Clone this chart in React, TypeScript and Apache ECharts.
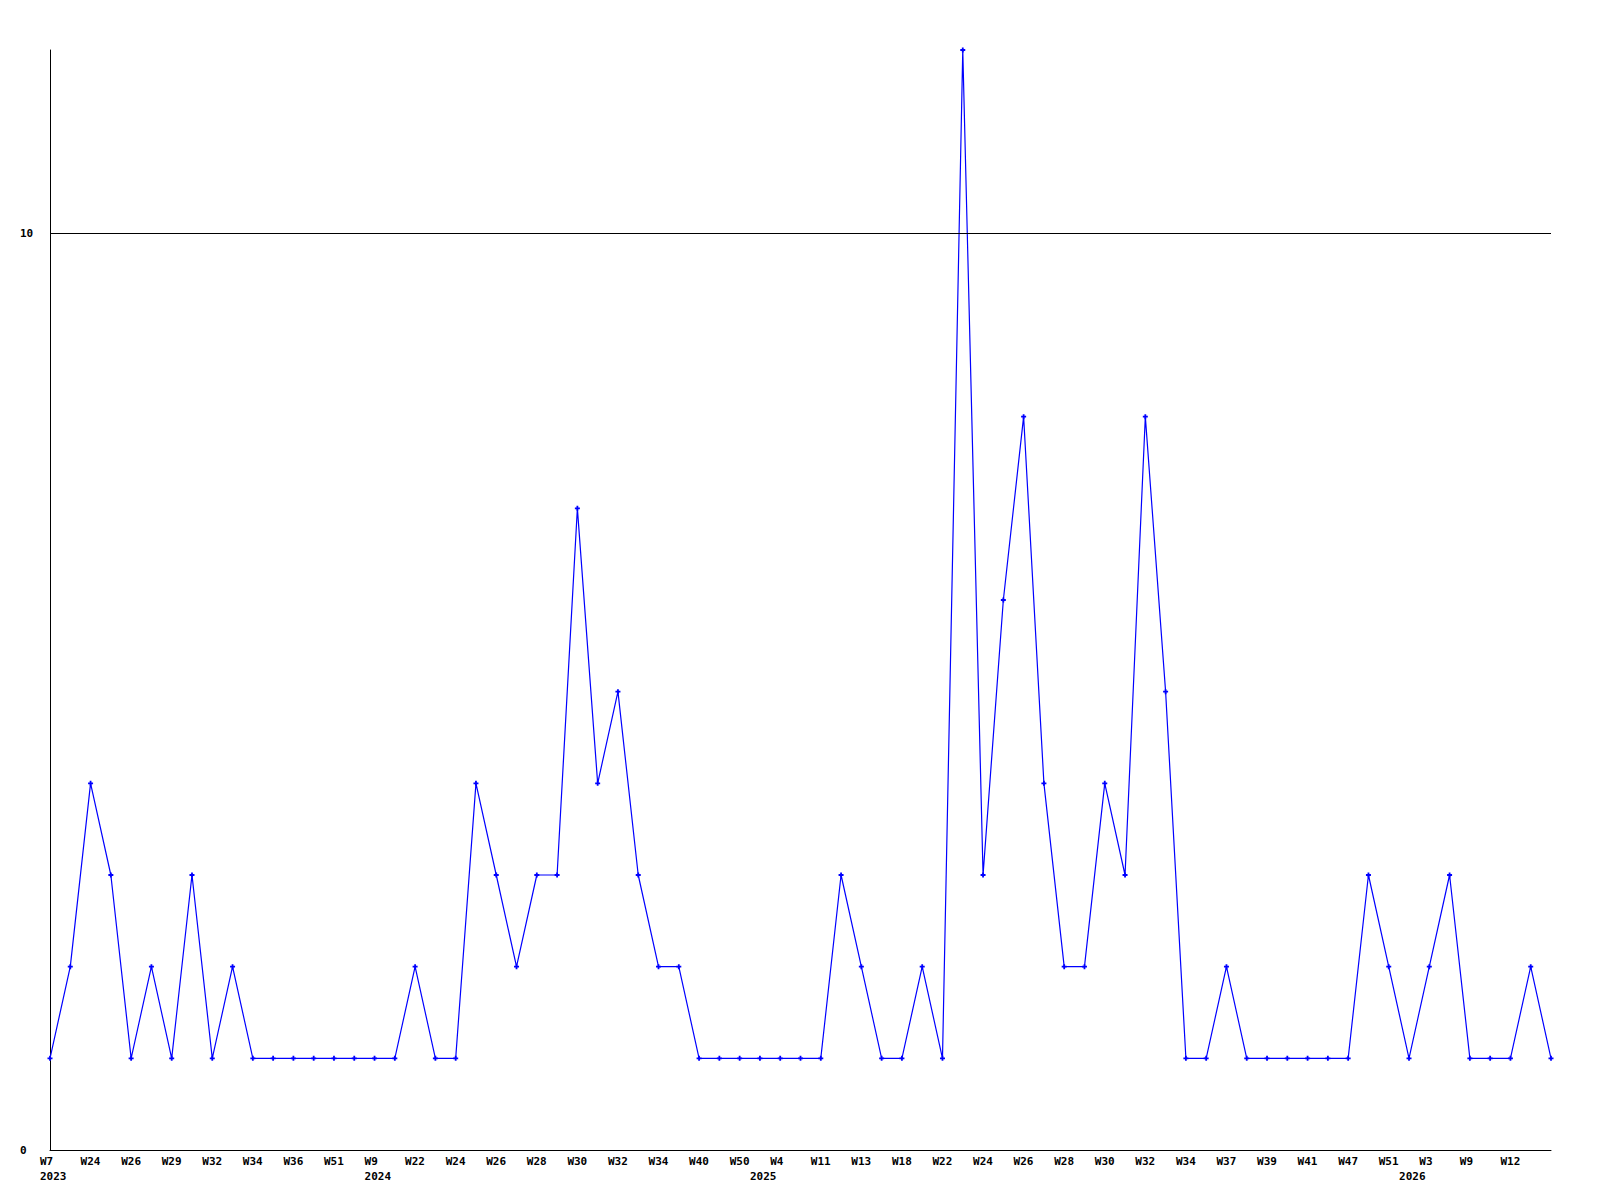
import React, { useEffect, useRef } from "react";
import * as echarts from "echarts";

const weeks = [
  "W7", "W23", "W24", "W25", "W26", "W27", "W29", "W30", "W32", "W33",
  "W34", "W35", "W36", "W38", "W51", "W52", "W9", "W12", "W22", "W23",
  "W24", "W25", "W26", "W27", "W28", "W29", "W30", "W31", "W32", "W33",
  "W34", "W35", "W40", "W45", "W50", "W2", "W4", "W8", "W11", "W12",
  "W13", "W16", "W18", "W20", "W22", "W23", "W24", "W25", "W26", "W27",
  "W28", "W29", "W30", "W31", "W32", "W33", "W34", "W35", "W37", "W38",
  "W39", "W40", "W41", "W45", "W47", "W49", "W51", "W1", "W3", "W6",
  "W9", "W10", "W12", "W14", "W16",
];

const values = [
  1, 2, 4, 3, 1, 2, 1, 3, 1, 2,
  1, 1, 1, 1, 1, 1, 1, 1, 2, 1,
  1, 4, 3, 2, 3, 3, 7, 4, 5, 3,
  2, 2, 1, 1, 1, 1, 1, 1, 1, 3,
  2, 1, 1, 2, 1, 12, 3, 6, 8, 4,
  2, 2, 4, 3, 8, 5, 1, 1, 2, 1,
  1, 1, 1, 1, 1, 3, 2, 1, 2, 3,
  1, 1, 1, 2, 1,
];

const years = ["2023", "2024", "2025", "2026"];
const yearIndex = [0, 16, 35, 67];

const yTicks = [0, 10];
const yMax = 12;
const refLine = 10;

const FONT = "DejaVu Sans Mono";
const BLUE = "#0000ff";
const PLUS =
  "path://M1.6,0L3.4,0L3.4,1.6L5,1.6L5,3.4L3.4,3.4L3.4,5L1.6,5L1.6,3.4L0,3.4L0,1.6L1.6,1.6Z";

export default function App() {
  const ref = useRef<HTMLDivElement>(null);

  useEffect(() => {
    if (!ref.current) return;
    const chart = echarts.init(ref.current, null, { renderer: "svg" });
    const lastLabelled = weeks.length - 2;
    chart.setOption({
      animation: false,
      backgroundColor: "#ffffff",
      grid: { left: 50, right: 49, top: 50, bottom: 50, containLabel: false },
      xAxis: [
        {
          type: "category",
          data: weeks,
          boundaryGap: false,
          position: "bottom",
          axisLine: { show: true, lineStyle: { color: "#000", width: 1 } },
          axisTick: { show: false },
          splitLine: { show: false },
          axisLabel: {
            interval: (i: number) => i % 2 === 0 && i <= lastLabelled,
            align: "left",
            padding: [0, 0, 0, -10],
            margin: 6,
            fontFamily: FONT,
            fontWeight: "bold",
            fontSize: 11,
            color: "#000",
            hideOverlap: false,
          },
        },
        {
          type: "category",
          data: weeks,
          boundaryGap: false,
          position: "bottom",
          axisLine: { show: false },
          axisTick: { show: false },
          splitLine: { show: false },
          axisLabel: {
            interval: (i: number) => yearIndex.indexOf(i) >= 0,
            formatter: (_v: string, i: number) => {
              const k = yearIndex.indexOf(i);
              return k >= 0 ? years[k] : "";
            },
            align: "left",
            padding: [0, 0, 0, -10],
            margin: 21,
            fontFamily: FONT,
            fontWeight: "bold",
            fontSize: 11,
            color: "#000",
            hideOverlap: false,
          },
        },
      ],
      yAxis: {
        type: "value",
        min: yTicks[0],
        max: yMax,
        interval: yTicks[1] - yTicks[0],
        axisLine: { show: true, lineStyle: { color: "#000", width: 1 } },
        axisTick: { show: false },
        splitLine: { show: false },
        axisLabel: {
          showMaxLabel: false,
          align: "left",
          margin: 30,
          fontFamily: FONT,
          fontWeight: "bold",
          fontSize: 11,
          color: "#000",
        },
      },
      series: [
        {
          type: "line",
          xAxisIndex: 0,
          data: values,
          symbol: PLUS,
          symbolSize: 5,
          showAllSymbol: true,
          lineStyle: { color: BLUE, width: 1.2 },
          itemStyle: { color: BLUE },
          markLine: {
            silent: true,
            symbol: "none",
            label: { show: false },
            lineStyle: { color: "#000", width: 1, type: "solid" },
            data: [{ yAxis: refLine }],
          },
        },
      ],
    });
    return () => chart.dispose();
  }, []);

  return (
    <div
      ref={ref}
      style={{ position: "absolute", left: 0, top: 0, width: 1600, height: 1200 }}
    />
  );
}
